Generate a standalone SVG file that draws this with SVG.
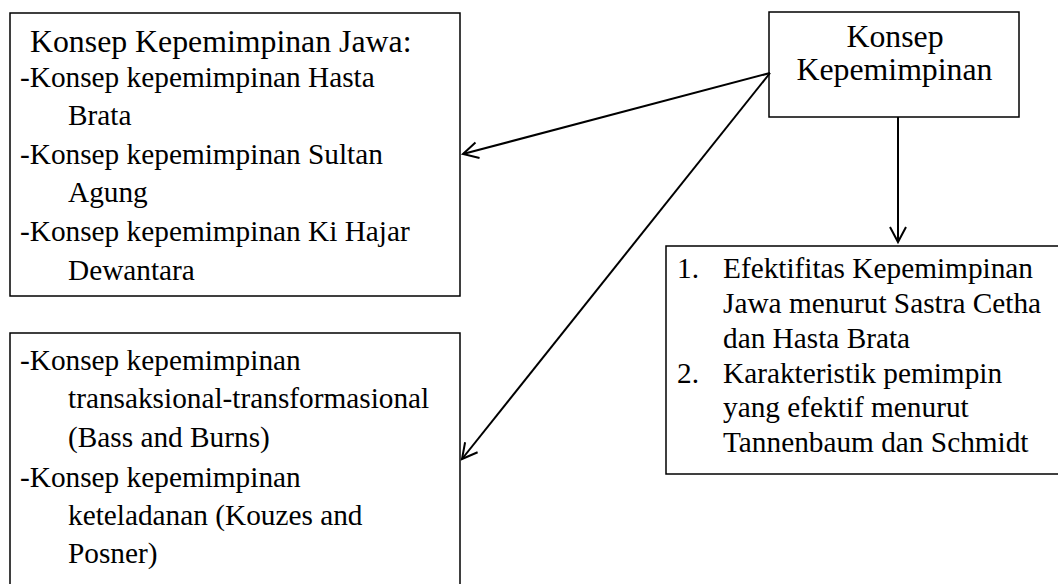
<svg xmlns="http://www.w3.org/2000/svg" width="1058" height="584" viewBox="0 0 1058 584">
<style>
.box{fill:#fff;stroke:#000;stroke-width:1.5}
.t{font-family:"Liberation Serif","Times New Roman",serif;font-size:29.3px;fill:#000}
.h{font-size:31.8px}
.c{stroke:#000;stroke-width:2;fill:none}
</style>
<defs>
<marker id="ah" markerUnits="userSpaceOnUse" markerWidth="30" markerHeight="30" refX="16" refY="9" orient="auto">
<path d="M1,1 L16,9 L1,17" fill="none" stroke="#000" stroke-width="2"/>
</marker>
</defs>
<rect width="1058" height="584" fill="#fff"/>
<g id="jawa">
<rect class="box" x="10" y="13" width="450" height="283"/>
<text class="t h" x="30" y="52">Konsep Kepemimpinan Jawa:</text>
<text class="t" x="20" y="87">-Konsep kepemimpinan Hasta</text>
<text class="t" x="68" y="125">Brata</text>
<text class="t" x="20" y="164">-Konsep kepemimpinan Sultan</text>
<text class="t" x="68" y="202">Agung</text>
<text class="t" x="20" y="241">-Konsep kepemimpinan Ki Hajar</text>
<text class="t" x="68" y="280">Dewantara</text>
</g>
<g id="modern">
<rect class="box" x="10" y="333" width="450" height="270"/>
<text class="t" x="20" y="370">-Konsep kepemimpinan</text>
<text class="t" x="68" y="408">transaksional-transformasional</text>
<text class="t" x="68" y="447">(Bass and Burns)</text>
<text class="t" x="20" y="487">-Konsep kepemimpinan</text>
<text class="t" x="68" y="525">keteladanan (Kouzes and</text>
<text class="t" x="68" y="563">Posner)</text>
</g>
<g id="konsep">
<rect class="box" x="769" y="12" width="250" height="105"/>
<text class="t h" x="895" y="47" text-anchor="middle">Konsep</text>
<text class="t h" x="894.5" y="80" text-anchor="middle">Kepemimpinan</text>
</g>
<g id="efektif">
<rect class="box" x="666" y="246" width="400" height="228"/>
<text class="t" x="677" y="278">1.</text>
<text class="t" x="723" y="278">Efektifitas Kepemimpinan</text>
<text class="t" x="723" y="313">Jawa menurut Sastra Cetha</text>
<text class="t" x="723" y="348">dan Hasta Brata</text>
<text class="t" x="677" y="383">2.</text>
<text class="t" x="723" y="383">Karakteristik pemimpin</text>
<text class="t" x="723" y="417">yang efektif menurut</text>
<text class="t" x="723" y="452">Tannenbaum dan Schmidt</text>
</g>
<g id="connectors">
<line class="c" x1="770" y1="73" x2="463" y2="154" marker-end="url(#ah)"/>
<line class="c" x1="770" y1="73" x2="462" y2="459" marker-end="url(#ah)"/>
<line class="c" x1="898" y1="117" x2="898" y2="242" marker-end="url(#ah)"/>
</g>
</svg>
